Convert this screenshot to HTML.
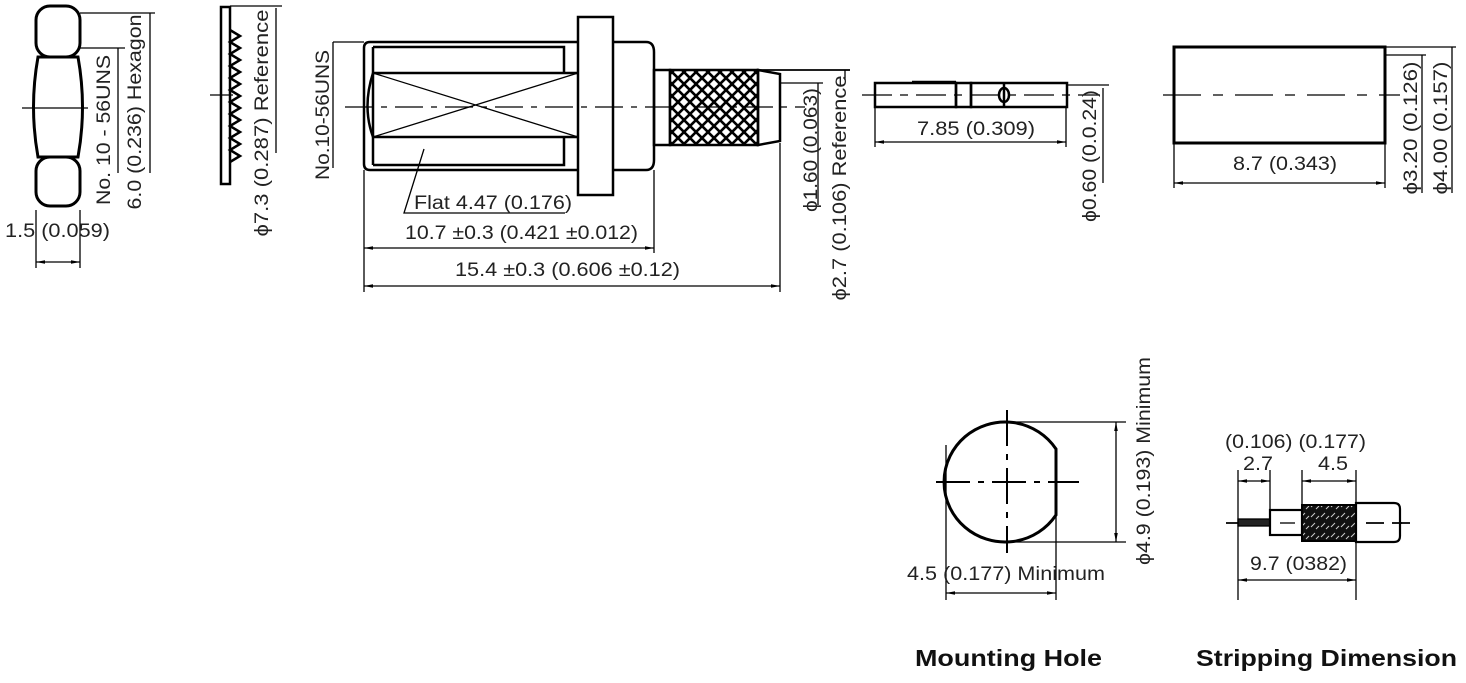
<!DOCTYPE html>
<html><head><meta charset="utf-8"><style>
html,body{margin:0;padding:0;background:#fff;}
svg{display:block;}
text{font-family:"Liberation Sans",Arial,sans-serif;font-size:19px;fill:#222;}
.b{font-weight:bold;font-size:23px;fill:#111;}
</style></head><body>
<svg width="1466" height="683" viewBox="0 0 1466 683" xmlns="http://www.w3.org/2000/svg">
<defs>
<pattern id="kn" width="12" height="12" patternUnits="userSpaceOnUse">
<rect width="12" height="12" fill="#fff"/>
<path d="M0,0 L12,12 M12,0 L0,12" stroke="#000" stroke-width="2.6"/>
</pattern>
<pattern id="br" width="10" height="10" patternUnits="userSpaceOnUse">
<rect width="10" height="10" fill="#111"/>
<path d="M1,7 L5,3 M6,9 L9,6" stroke="#ccc" stroke-width="1"/>
</pattern>
<marker id="a" viewBox="0 0 10 10" refX="10" refY="5" markerWidth="7" markerHeight="7" orient="auto-start-reverse">
<path d="M0,3 L10,5 L0,7z" fill="#000"/></marker>
</defs>
<g fill="none" stroke="#000" stroke-width="1.3">
<!-- Hex nut -->
<g stroke-width="3">
<rect x="36" y="6" width="44" height="51" rx="14"/>
<path d="M38,57 Q29,107 38,157 L78,157 Q87,107 78,57 Z"/>
<rect x="36" y="157" width="44" height="49" rx="14"/>
</g>
<line x1="22" y1="108" x2="88" y2="108"/>
<line x1="80" y1="13" x2="155" y2="13"/><line x1="150" y1="13" x2="150" y2="173"/>
<line x1="80" y1="48" x2="125" y2="48"/><line x1="118" y1="48" x2="118" y2="173"/>
<line x1="36" y1="210" x2="36" y2="268"/><line x1="80" y1="210" x2="80" y2="268"/>
<line x1="36" y1="262" x2="80" y2="262" marker-start="url(#a)" marker-end="url(#a)"/>
<!-- Washer -->
<rect x="221" y="7" width="9" height="177" stroke-width="2.5"/>
<path d="M230,30 L240,36 L230,42 L240,48 L230,54 L240,60 L230,66 L240,72 L230,78 L240,84 L230,90 L240,96 L230,102 L240,108 L230,114 L240,120 L230,126 L240,132 L230,138 L240,144 L230,150 L240,156 L230,162" stroke-width="2.5"/>
<line x1="210" y1="95" x2="233" y2="95"/>
<line x1="230" y1="6" x2="282" y2="6"/><line x1="276" y1="8" x2="276" y2="153"/>
<!-- Main connector -->
<g stroke-width="2.5">
<path d="M370,42 L646,42 Q654,42 654,52 L654,160 Q654,170 646,170 L370,170 Q364,170 364,164 L364,48 Q364,42 370,42 Z"/>
<rect x="578" y="17" width="35" height="178" fill="#fff"/>
<path d="M373,47 L564,47 L564,73 M373,165 L564,165 L564,137"/>
<path d="M373,73 L578,73 M373,137 L578,137"/>
<line x1="373" y1="47" x2="373" y2="165"/>
<path d="M373,73 Q362,107 373,137"/>
<rect x="654" y="70" width="16" height="75"/>
<rect x="670" y="70" width="88" height="75" fill="url(#kn)"/>
<path d="M758,70 L780,74 L780,141 L758,145 Z"/>
</g>
<line x1="373" y1="73" x2="578" y2="137"/><line x1="373" y1="137" x2="578" y2="73"/>
<line x1="345" y1="107" x2="805" y2="107" stroke-dasharray="28,8,6,8"/>
<line x1="758" y1="70" x2="850" y2="70" stroke-width="1.8"/>
<line x1="780" y1="83" x2="823" y2="83"/><line x1="818" y1="83" x2="818" y2="205"/>
<line x1="845" y1="70" x2="845" y2="80"/>
<line x1="333" y1="42" x2="364" y2="42"/><line x1="333" y1="42" x2="333" y2="168"/>
<path d="M424,149 L404,213 L565,213"/>
<line x1="364" y1="170" x2="364" y2="292"/><line x1="654" y1="170" x2="654" y2="253"/><line x1="780" y1="143" x2="780" y2="292"/>
<line x1="364" y1="248" x2="654" y2="248" marker-start="url(#a)" marker-end="url(#a)"/>
<line x1="364" y1="286" x2="780" y2="286" marker-start="url(#a)" marker-end="url(#a)"/>
<!-- Pin -->
<g stroke-width="2.5">
<rect x="875" y="83" width="81" height="24"/>
<rect x="956" y="83" width="15" height="24"/>
<rect x="971" y="83" width="96" height="24"/>
<line x1="912" y1="82" x2="956" y2="82"/>
<ellipse cx="1004" cy="95" rx="5" ry="7"/>
<line x1="1004" y1="84" x2="1004" y2="106"/>
</g>
<line x1="862" y1="95" x2="1100" y2="95" stroke-dasharray="30,8,8,8"/>
<line x1="1067" y1="85" x2="1109" y2="85"/><line x1="1103" y1="88" x2="1103" y2="183"/>
<line x1="875" y1="107" x2="875" y2="147"/><line x1="1066" y1="107" x2="1066" y2="147"/>
<line x1="875" y1="142" x2="1066" y2="142" marker-start="url(#a)" marker-end="url(#a)"/>
<!-- Ferrule -->
<rect x="1174" y="47" width="211" height="96" stroke-width="3"/>
<line x1="1163" y1="95" x2="1400" y2="95" stroke-dasharray="38,12,10,12"/>
<line x1="1385" y1="47" x2="1456" y2="47"/><line x1="1452" y1="47" x2="1452" y2="193"/>
<line x1="1385" y1="55" x2="1426" y2="55"/><line x1="1422" y1="55" x2="1422" y2="193"/>
<line x1="1174" y1="143" x2="1174" y2="188"/><line x1="1385" y1="143" x2="1385" y2="188"/>
<line x1="1174" y1="183" x2="1385" y2="183" marker-start="url(#a)" marker-end="url(#a)"/>
<!-- Mounting hole -->
<path d="M1056,449 A61,60 0 1 0 1056,515 Z" stroke-width="3"/>
<line x1="936" y1="482" x2="1079" y2="482" stroke-width="2" stroke-dasharray="34,8,6,8"/>
<line x1="1007" y1="410" x2="1007" y2="553" stroke-width="2" stroke-dasharray="36,8,6,8"/>
<line x1="1007" y1="422" x2="1126" y2="422"/><line x1="1007" y1="542" x2="1126" y2="542"/>
<line x1="1116" y1="422" x2="1116" y2="542" marker-start="url(#a)" marker-end="url(#a)"/>
<line x1="946" y1="445" x2="946" y2="600"/><line x1="1056" y1="485" x2="1056" y2="600"/>
<line x1="946" y1="593" x2="1056" y2="593" marker-start="url(#a)" marker-end="url(#a)"/>
<!-- Stripping -->
<line x1="1226" y1="523" x2="1410" y2="523" stroke-width="1.8"/>
<rect x="1238" y="519" width="32" height="7" fill="#222"/>
<rect x="1270" y="510" width="32" height="25" stroke-width="2.2" fill="#fff"/>
<line x1="1280" y1="523" x2="1295" y2="523"/>
<rect x="1302" y="505" width="54" height="36" fill="url(#br)" stroke-width="2"/>
<path d="M1356,503 L1394,503 Q1400,503 1400,509 L1400,536 Q1400,542 1394,542 L1356,542 Z" stroke-width="2.2" fill="#fff"/>
<line x1="1366" y1="523" x2="1410" y2="523" stroke-width="1.8" stroke-dasharray="18,8,10,8"/>
<line x1="1238" y1="470" x2="1238" y2="600"/><line x1="1270" y1="470" x2="1270" y2="515"/>
<line x1="1302" y1="470" x2="1302" y2="508"/><line x1="1356" y1="470" x2="1356" y2="600"/>
<line x1="1238" y1="481" x2="1270" y2="481" marker-start="url(#a)" marker-end="url(#a)"/>
<line x1="1302" y1="481" x2="1356" y2="481" marker-start="url(#a)" marker-end="url(#a)"/>
<line x1="1238" y1="580" x2="1356" y2="580" marker-start="url(#a)" marker-end="url(#a)"/>
</g>
<!-- Texts -->
<text transform="translate(110,130) rotate(-90)" text-anchor="middle" textLength="150" lengthAdjust="spacingAndGlyphs">No. 10 - 56UNS</text>
<text transform="translate(141,112) rotate(-90)" text-anchor="middle" textLength="195" lengthAdjust="spacingAndGlyphs">6.0 (0.236) Hexagon</text>
<text x="5" y="237" textLength="105" lengthAdjust="spacingAndGlyphs">1.5 (0.059)</text>
<text transform="translate(268,123) rotate(-90)" text-anchor="middle" textLength="227" lengthAdjust="spacingAndGlyphs">ϕ7.3 (0.287) Reference</text>
<text transform="translate(329,115) rotate(-90)" text-anchor="middle" textLength="130" lengthAdjust="spacingAndGlyphs">No.10-56UNS</text>
<text x="414" y="209" textLength="158" lengthAdjust="spacingAndGlyphs">Flat 4.47 (0.176)</text>
<text x="405" y="239" textLength="233" lengthAdjust="spacingAndGlyphs">10.7 ±0.3 (0.421 ±0.012)</text>
<text x="455" y="276" textLength="225" lengthAdjust="spacingAndGlyphs">15.4 ±0.3 (0.606 ±0.12)</text>
<text transform="translate(817,150) rotate(-90)" text-anchor="middle" textLength="124" lengthAdjust="spacingAndGlyphs">ϕ1.60 (0.063)</text>
<text transform="translate(846,188) rotate(-90)" text-anchor="middle" textLength="225" lengthAdjust="spacingAndGlyphs">ϕ2.7 (0.106) Reference</text>
<text x="917" y="135" textLength="118" lengthAdjust="spacingAndGlyphs">7.85 (0.309)</text>
<text transform="translate(1096,156) rotate(-90)" text-anchor="middle" textLength="132" lengthAdjust="spacingAndGlyphs">ϕ0.60 (0.0.24)</text>
<text x="1233" y="170" textLength="104" lengthAdjust="spacingAndGlyphs">8.7 (0.343)</text>
<text transform="translate(1417,128) rotate(-90)" text-anchor="middle" textLength="133" lengthAdjust="spacingAndGlyphs">ϕ3.20 (0.126)</text>
<text transform="translate(1447,128) rotate(-90)" text-anchor="middle" textLength="133" lengthAdjust="spacingAndGlyphs">ϕ4.00 (0.157)</text>
<text transform="translate(1150,461) rotate(-90)" text-anchor="middle" textLength="208" lengthAdjust="spacingAndGlyphs">ϕ4.9 (0.193) Minimum</text>
<text x="907" y="580" textLength="198" lengthAdjust="spacingAndGlyphs">4.5 (0.177) Minimum</text>
<text x="1225" y="448" textLength="141" lengthAdjust="spacingAndGlyphs">(0.106) (0.177)</text>
<text x="1243" y="470" textLength="30" lengthAdjust="spacingAndGlyphs">2.7</text>
<text x="1318" y="470" textLength="30" lengthAdjust="spacingAndGlyphs">4.5</text>
<text x="1250" y="570" textLength="97" lengthAdjust="spacingAndGlyphs">9.7 (0382)</text>
<text class="b" x="915" y="666" textLength="187" lengthAdjust="spacingAndGlyphs">Mounting Hole</text>
<text class="b" x="1196" y="666" textLength="261" lengthAdjust="spacingAndGlyphs">Stripping Dimension</text>
</svg>
</body></html>
